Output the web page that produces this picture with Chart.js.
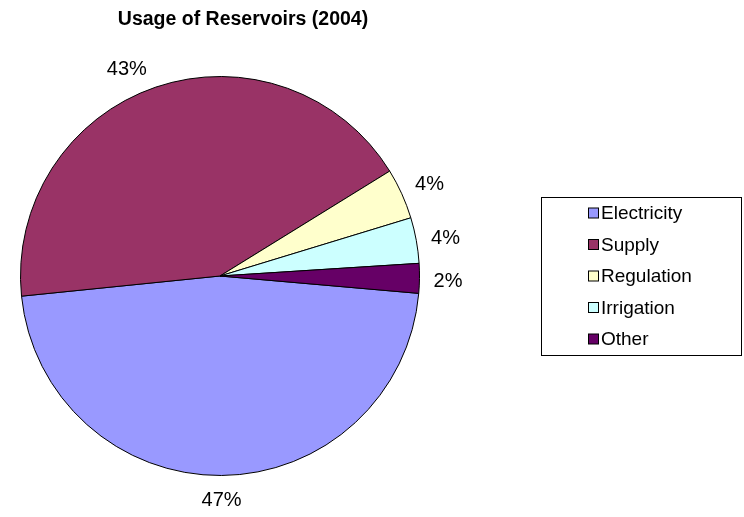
<!DOCTYPE html>
<html>
<head>
<meta charset="utf-8">
<script src="https://cdn.jsdelivr.net/npm/chart.js@4/dist/chart.umd.min.js"></script>
<style>
  html, body { margin: 0; padding: 0; background: #fff; }
  #wrap { position: relative; width: 744px; height: 517px; }
</style>
</head>
<body>
<div id="wrap"><canvas id="chart" width="744" height="517"></canvas></div>
<script>
const chartTitle = 'Usage of Reservoirs (2004)';
const categories = ['Electricity', 'Supply', 'Regulation', 'Irrigation', 'Other'];
const shares = [47.0, 42.8, 4.1, 3.7, 2.4];
const sliceColors = ['#9999FF', '#993366', '#FFFFCC', '#CCFFFF', '#660066'];

const FONT = 'Arial, "Liberation Sans", sans-serif';

// Title, outside-end percent labels and the boxed legend
const decorations = {
    id: 'decorations',
    afterDraw(chart) {
        const ctx = chart.ctx;
        ctx.save();

        ctx.fillStyle = '#000';
        ctx.font = 'bold 19.5px ' + FONT;
        ctx.textAlign = 'center';
        ctx.textBaseline = 'middle';
        ctx.fillText(chartTitle, 243, 20);

        const meta = chart.getDatasetMeta(0);
        const total = shares.reduce((a, b) => a + b, 0);
        ctx.font = '20px ' + FONT;
        meta.data.forEach((arc, i) => {
            const mid = (arc.startAngle + arc.endAngle) / 2;
            const text = Math.round(shares[i] / total * 100) + '%';
            const halfW = ctx.measureText(text).width / 2;
            const halfH = 8;
            const c = Math.cos(mid), s = Math.sin(mid);
            const d = arc.outerRadius + 14 + halfW * Math.abs(c) + halfH * Math.abs(s);
            let x = arc.x + c * d;
            let y = arc.y + s * d + 3;
            // Excel pushes the big upper label further to the left
            if (i === 1) { x -= 20; y += 6; }
            ctx.fillText(text, x, y);
        });

        // legend
        const box = { x: 541.5, y: 197.5, w: 200, h: 158 };
        ctx.strokeStyle = '#000';
        ctx.lineWidth = 1;
        ctx.strokeRect(box.x, box.y, box.w, box.h);
        ctx.textAlign = 'left';
        ctx.font = '19px ' + FONT;
        categories.forEach((name, i) => {
            const y = 213 + i * 31.5;
            ctx.fillStyle = sliceColors[i];
            ctx.fillRect(588.5, y - 5, 10, 10);
            ctx.strokeRect(588.5, y - 5, 10, 10);
            ctx.fillStyle = '#000';
            ctx.fillText(name, 601, y + 1);
        });

        ctx.restore();
    },
};

new Chart(document.getElementById('chart'), {
    type: 'pie',
    data: {
        labels: categories,
        datasets: [
            {
                data: shares,
                backgroundColor: sliceColors,
                borderColor: '#000',
                borderWidth: 1,
            },
        ],
    },
    options: {
        responsive: false,
        animation: false,
        rotation: 95,
        layout: {
            padding: { left: 20, top: 76, right: 324, bottom: 41 },
        },
        plugins: {
            legend: { display: false },
            title: { display: false },
            tooltip: { enabled: false },
        },
    },
    plugins: [decorations],
});
</script>
</body>
</html>
